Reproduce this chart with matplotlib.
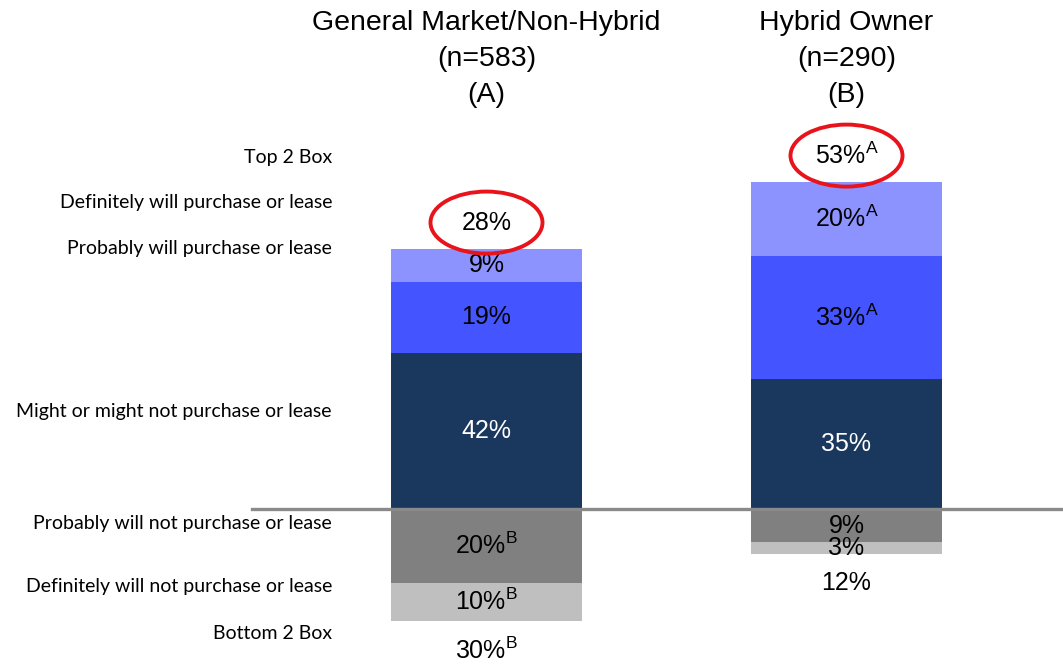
import matplotlib
matplotlib.use('Agg')
from matplotlib import pyplot as plt
from matplotlib.patches import Ellipse

plt.rcParams['font.family'] = ['Liberation Sans', 'DejaVu Sans']
plt.rcParams['mathtext.fontset'] = 'custom'
plt.rcParams['mathtext.rm'] = 'Liberation Sans'
plt.rcParams['mathtext.it'] = 'Liberation Sans'

# data
groups = ['General Market/Non-Hybrid\n(n=583)\n(A)', 'Hybrid Owner\n(n=290)\n(B)']
might = [42, 35]
probably = [19, 33]
definitely = [9, 20]
prob_not = [20, 9]
def_not = [10, 3]
top2 = [28, 53]
bottom2 = [30, 12]
# significance letters for each label
sig_might = ['', '']
sig_prob = ['', 'A']
sig_def = ['', 'A']
sig_probnot = ['B', '']
sig_defnot = ['B', '']
sig_top2 = ['', 'A']
sig_bottom2 = ['B', '']

row_labels = ['Top 2 Box', 'Definitely will purchase or lease', 'Probably will purchase or lease',
              'Might or might not purchase or lease', 'Probably will not purchase or lease',
              'Definitely will not purchase or lease', 'Bottom 2 Box']
row_y = [94.6, 82.3, 69.9, 26.3, -3.8, -20.9, -33.6]

c_def = '#8C93FF'
c_prob = '#4454FF'
c_might = '#1A385E'
c_pnot = '#808080'
c_dnot = '#BFBFBF'

W, H = 1063, 666
fig = plt.figure(figsize=(W / 100, H / 100), dpi=100)
ax = fig.add_axes([0, 0, 1, 1])
px_per = 3.72   # pixels per percent
base_px = 509
ax.set_ylim(-(H - base_px) / px_per, base_px / px_per)
ax.set_xlim(-486.5 / 360, (W - 486.5) / 360)
ax.axis('off')

x = [0, 1]
bw = 0.53


def lab(v, s):
    t = '%d%%' % v
    if s:
        t += r'$^{\mathrm{%s}}$' % s
    return t


ax.bar(x, might, bw, color=c_might, zorder=2)
ax.bar(x, probably, bw, bottom=might, color=c_prob, zorder=2)
b2 = [m + p for m, p in zip(might, probably)]
ax.bar(x, definitely, bw, bottom=b2, color=c_def, zorder=2)
ax.bar(x, [-v for v in prob_not], bw, color=c_pnot, zorder=2)
ax.bar(x, [-v for v in def_not], bw, bottom=[-v for v in prob_not], color=c_dnot, zorder=2)

ax.plot([(252 - 486.5) / 360, (W - 486.5) / 360], [0, 0], color='#8A8A8A', lw=2.4, zorder=3)

fs = 18
for i in x:
    ax.text(i, might[i] / 2, lab(might[i], sig_might[i]), ha='center', va='center',
            fontsize=fs, color='white', zorder=4)
    ax.text(i, might[i] + probably[i] / 2, lab(probably[i], sig_prob[i]), ha='center',
            va='center', fontsize=fs, color='black', zorder=4)
    ax.text(i, b2[i] + definitely[i] / 2, lab(definitely[i], sig_def[i]), ha='center',
            va='center', fontsize=fs, color='black', zorder=4)
    ax.text(i, -prob_not[i] / 2, lab(prob_not[i], sig_probnot[i]), ha='center',
            va='center', fontsize=fs, color='black', zorder=4)
    ax.text(i, -prob_not[i] - def_not[i] / 2, lab(def_not[i], sig_defnot[i]), ha='center',
            va='center', fontsize=fs, color='black', zorder=4)
    tot = b2[i] + definitely[i]
    ty = tot + 7
    ax.text(i, ty, lab(top2[i], sig_top2[i]), ha='center', va='center', fontsize=fs,
            color='black', zorder=4)
    ax.add_patch(Ellipse((i, ty), 112 / 360, 62 / px_per, fill=False, ec='#E8141B',
                         lw=2.8, zorder=5))
    bot = prob_not[i] + def_not[i]
    ax.text(i, -bot - 8, lab(bottom2[i], sig_bottom2[i]), ha='center', va='center',
            fontsize=fs, color='black', zorder=4)
    ax.text(i, base_px / px_per - 59 / px_per, groups[i], ha='center', va='center',
            fontsize=20.5, linespacing=1.5)

for t, yy in zip(row_labels, row_y):
    ax.text((332 - 486.5) / 360, yy, t, ha='right', va='center', fontsize=14,
            family=['Lato', 'DejaVu Sans'])

fig.savefig('out.png', dpi=100)
